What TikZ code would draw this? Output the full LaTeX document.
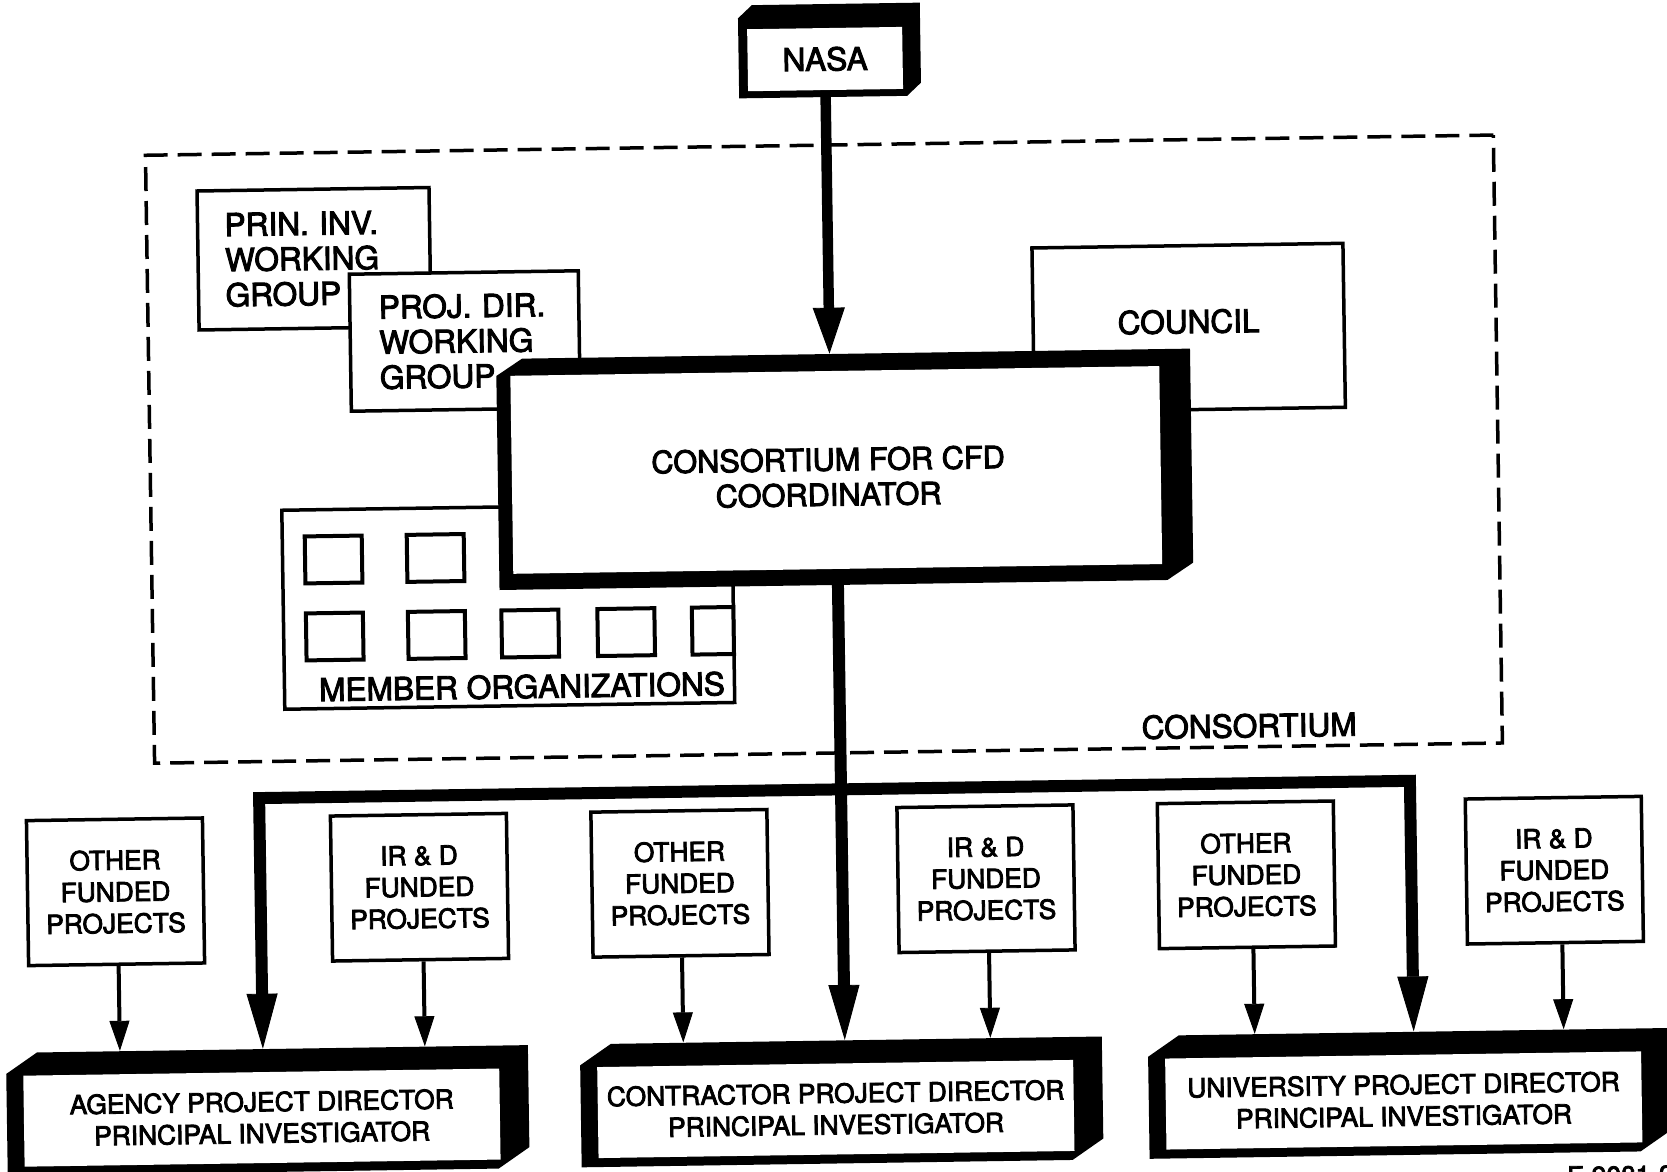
\documentclass[tikz,border=0pt]{standalone}
\usepackage{fontspec}
\setmainfont{TeX Gyre Heros}[FakeBold=3]
\usetikzlibrary{arrows.meta}

% one drawing unit
\newcommand\pxu{0.02cm}
\newcommand\labelfontL{\fontsize{18}{20}\selectfont}
\newcommand\labelfontS{\fontsize{15}{18}\selectfont}

% frame of a solid box: left, top, right, bottom margins and corner bevel (dx, dy)
\newcommand\framespec[6]{\def\fml{#1}\def\fmt{#2}\def\fmr{#3}\def\fmb{#4}\def\fbx{#5}\def\fby{#6}}
% solid box: black body, white front face with the text
% #1 name, #2 x, #3 y, #4 face width, #5 face height, #6 node options, #7 text
\newcommand\solidbox[7]{%
  \fill[black] (#2-#4/2-\fml, #3+#5/2+\fmb)
    -- (#2-#4/2-\fml, #3-#5/2-\fmt+\fby)
    -- (#2-#4/2-\fml+\fbx, #3-#5/2-\fmt)
    -- (#2+#4/2+\fmr, #3-#5/2-\fmt)
    -- (#2+#4/2+\fmr, #3+#5/2+\fmb-\fby)
    -- (#2+#4/2+\fmr-\fbx, #3+#5/2+\fmb)
    -- cycle;
  \node[solidface, minimum width=#4*\pxu, minimum height=#5*\pxu, #6] (#1) at (#2,#3) {#7};
}

\begin{document}
\begin{tikzpicture}[x=\pxu, y=-\pxu,
  solidface/.style={fill=white, inner sep=0pt, align=center},
  plainbox/.style={draw, fill=white, line width=0.07cm, inner sep=0pt, align=center},
  projbox/.style={plainbox, minimum width=176*\pxu, minimum height=145*\pxu, font=\labelfontS},
  consframe/.style={draw, line width=0.07cm, dash pattern=on 0.48cm off 0.2cm, inner sep=0pt},
  memsquare/.style={draw, fill=white, line width=0.08cm, minimum width=57*\pxu, minimum height=47*\pxu, inner sep=0pt},
  nasaarrow/.style={line width=0.21cm, -{Triangle[width=0.64cm,length=0.92cm,line width=0.5pt]}},
  bigarrow/.style={line width=0.24cm, -{Triangle[width=0.62cm,length=1.1cm,line width=0.5pt]}},
  busarrow/.style={line width=0.24cm, line join=miter,
    {Triangle[width=0.62cm,length=1.1cm,line width=0.5pt]}-{Triangle[width=0.62cm,length=1.1cm,line width=0.5pt]}},
  thinarrow/.style={line width=0.08cm, -{Triangle[width=0.4cm,length=0.6cm,line width=0.5pt]}}
]
\useasboundingbox (0,0) rectangle (1667,1172);
\clip (0,0) rectangle (1667,1172);
\fill[white] (0,0) rectangle (1667,1172);

\begin{scope}[rotate around={0.86:(833,586)}, transform shape]

% consortium boundary
\node[consframe, minimum width=1348*\pxu, minimum height=608*\pxu] (consortium) at (826,449) {};
\node[font=\labelfontL, inner sep=0pt] (conslabel) at (1247,732) {CONSORTIUM};

% working groups and council
\node[plainbox, font=\labelfontL, align=left, minimum width=232*\pxu, minimum height=139*\pxu,
      text width=3.56cm, inner xsep=0.54cm] (prin) at (319,251) {PRIN. INV.\\WORKING\\GROUP};
\node[plainbox, font=\labelfontL, align=left, minimum width=229*\pxu, minimum height=137*\pxu,
      text width=3.42cm, inner xsep=0.58cm] (proj) at (468.5,335.5) {PROJ. DIR.\\WORKING\\GROUP};
\node[plainbox, font=\labelfontL, minimum width=311*\pxu, minimum height=164*\pxu] (council) at (1192.5,333) {};
\node[font=\labelfontL, inner sep=0pt] (counciltext) at (1192.5,327) {COUNCIL};

% member organizations
\node[plainbox, minimum width=450*\pxu, minimum height=199*\pxu] (members) at (508,601.5) {};
\foreach \i/\x/\y in {1/334/552, 2/436/552, 3/334/629, 4/436/629, 5/529.5/629, 6/625.5/629}
  \node[memsquare] (org\i) at (\x,\y) {};
\node[memsquare, minimum width=41.5*\pxu] (org7) at (712.25,629) {};
\node[font=\labelfontL, inner sep=0pt] (memlabel) at (520.5,682) {MEMBER ORGANIZATIONS};

% coordinator and NASA
\framespec{14}{17}{31}{16}{26}{17}
\solidbox{coord}{838}{470}{649}{198}{}{}
\node[font=\fontsize{17.5}{20}\selectfont, align=center, inner sep=0pt] (coordtext) at (830,477)
  {CONSORTIUM FOR CFD\\COORDINATOR};
\framespec{9}{24}{18}{7}{14}{13}
\solidbox{nasa}{833}{59}{155}{62}{font=\labelfontL}{NASA}
\draw[nasaarrow, shorten >=0.34cm] (nasa.south) -- (nasa.south |- coord.north);

% funded projects
\node[projbox] (a1) at (111,881) {OTHER\\FUNDED\\PROJECTS};
\node[projbox] (a2) at (415,881) {IR \& D\\FUNDED\\PROJECTS};
\node[projbox] (b1) at (675.5,881) {OTHER\\FUNDED\\PROJECTS};
\node[projbox] (b2) at (981.6,881) {IR \& D\\FUNDED\\PROJECTS};
\node[projbox] (c1) at (1242,881) {OTHER\\FUNDED\\PROJECTS};
\node[projbox] (c2) at (1550,881) {IR \& D\\FUNDED\\PROJECTS};

% project directors
\framespec{17}{23}{29}{9}{31}{21}
\solidbox{agency}{254}{1109}{476}{91}{font=\labelfontS}{AGENCY PROJECT DIRECTOR\\PRINCIPAL INVESTIGATOR}
\solidbox{contractor}{828}{1109}{476}{91}{font=\labelfontS}{CONTRACTOR PROJECT DIRECTOR\\PRINCIPAL INVESTIGATOR}
\solidbox{university}{1396}{1109}{476}{91}{font=\labelfontS}{UNIVERSITY PROJECT DIRECTOR\\PRINCIPAL INVESTIGATOR}

% distribution lines
\coordinate (busL) at (256,789.5);
\coordinate (busR) at (1407,789.5);
\draw[bigarrow, shorten >=0.46cm] (coord.south) -- (coord.south |- contractor.north);
\draw[busarrow, shorten <=0.46cm, shorten >=0.46cm]
  (busL |- agency.north) -- (busL) -- (busR) -- (busR |- university.north);
\foreach \p/\b/\d in {a1/agency/2, a2/agency/3, b1/contractor/1, b2/contractor/2, c1/university/6, c2/university/7}
  \draw[thinarrow, shorten >=0.46cm] ([xshift=\d*\pxu]\p.south) -- ([xshift=\d*\pxu]\p.south |- \b.north);

\node[font=\labelfontS, anchor=north west, inner sep=0pt] (figno) at (1558,1177) {F-9081-3};
\end{scope}
\end{tikzpicture}
\end{document}
